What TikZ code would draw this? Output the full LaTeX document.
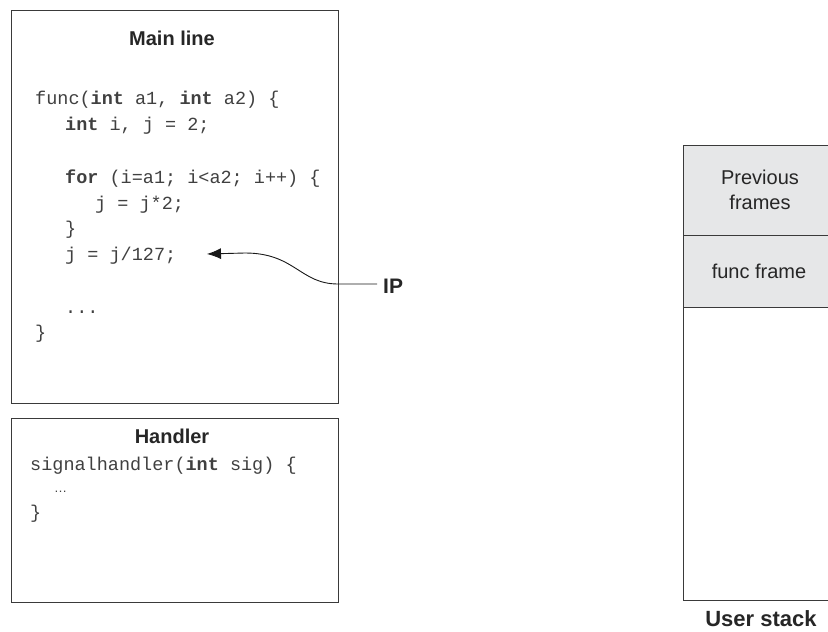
\documentclass[tikz,border=0pt]{standalone}
\usepackage{fontspec}
\setmainfont{Liberation Sans}
\setmonofont{Liberation Mono}
\usetikzlibrary{arrows.meta}
\definecolor{framegray}{HTML}{E6E7E8}
\definecolor{linegray}{HTML}{3A3A3A}
\tikzset{
  box/.style={draw=linegray, line width=1pt},
  title/.style={font=\fontsize{20}{24}\selectfont\bfseries, text=black!85, anchor=base, inner sep=0pt},
  lbl/.style={font=\fontsize{20}{25}\selectfont, text=black!85, align=center, inner sep=0pt},
  code/.style={font=\fontsize{18.5}{22}\selectfont\ttfamily, text=black!75, anchor=base west, inner sep=0pt},
  conn/.style={draw=black!90, line width=0.9pt, -{Latex[length=14pt,width=11pt]}}
}
\begin{document}
\begin{tikzpicture}[x=1pt,y=-1pt]
\useasboundingbox (0,0) rectangle (828,632);
\clip (0,0) rectangle (828,632);
% main line box
\node[box, minimum width=327pt, minimum height=393pt, anchor=north west, inner sep=0pt] (mainbox) at (11,10) {};
\node[title] (maintitle) at (172,45) {Main line};
\node[code] (c1) at (35,104) {func(\textbf{int} a1, \textbf{int} a2) \{};
\node[code] (c2) at (65,130) {\textbf{int} i, j = 2;};
\node[code] (c3) at (65,183) {\textbf{for} (i=a1; i<a2; i++) \{};
\node[code] (c4) at (95,209) {j = j*2;};
\node[code] (c5) at (65,234) {\}};
\node[code] (c6) at (65,260) {j = j/127;};
\node[code] (c7) at (65,313) {...};
\node[code] (c8) at (35,338) {\}};
% handler box
\node[box, minimum width=327pt, minimum height=184pt, anchor=north west, inner sep=0pt] (handlerbox) at (11,418) {};
\node[title] (handlertitle) at (172,443) {Handler};
\node[code] (h1) at (30,470) {signalhandler(\textbf{int} sig) \{};
\node[code, font=\fontsize{13}{14}\selectfont] (h2) at (54,492) {…};
\node[code] (h3) at (30,518) {\}};
% stack
\filldraw[box, fill=framegray] (683,145) rectangle (845,307);
\draw[box] (683,235) -- (845,235);
\draw[box] (683,307) rectangle (845,600);
\node[lbl] (prev) at (760,190) {Previous\\frames};
\node[lbl] (funcframe) at (759,271) {func frame};
\node[title, font=\fontsize{22}{26}\selectfont\bfseries] (userstack) at (761,626) {User stack};
% IP
\node[title, font=\fontsize{21}{25}\selectfont\bfseries, anchor=base west] (ip) at (383,293) {IP};
\coordinate (tip) at (207,254);
\coordinate (bend) at (338,284);
\draw[conn] ([xshift=-6pt]ip.west |- bend) -- (bend) .. controls (300,284) and (295,253) .. (245,253) -- (tip);
\end{tikzpicture}
\end{document}
